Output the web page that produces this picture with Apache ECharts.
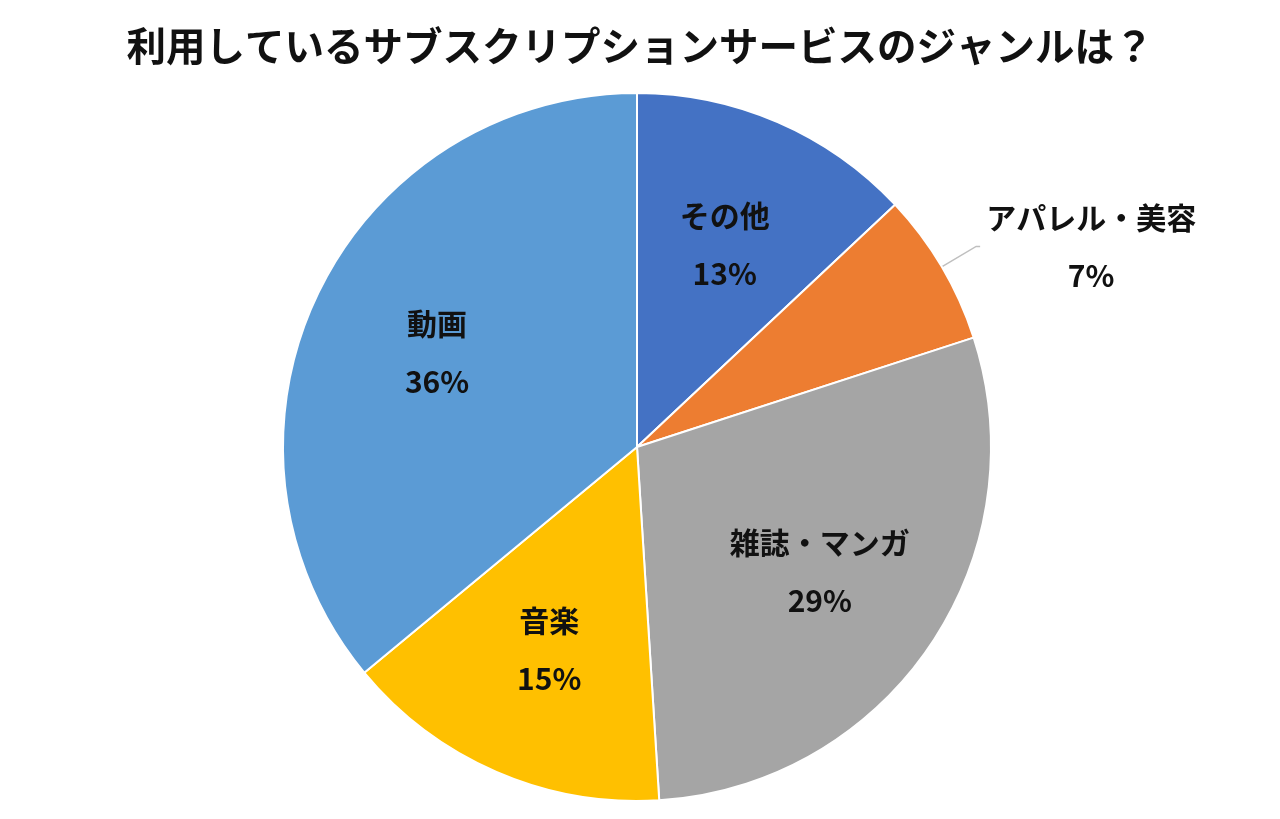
<!DOCTYPE html>
<html>
<head>
<meta charset="utf-8">
<script src="https://cdn.jsdelivr.net/npm/echarts@6/dist/echarts.min.js"></script>
<style>
html,body{margin:0;padding:0;background:#fff;}
#c{width:1280px;height:819px;}
</style>
</head>
<body>
<div id="c"></div>
<script>
const titleText = '利用しているサブスクリプションサービスのジャンルは？';
const categories = ['その他', 'アパレル・美容', '雑誌・マンガ', '音楽', '動画'];
const percents = [13, 7, 29, 15, 36];
const colors = ['#4472C4', '#ED7D31', '#A5A5A5', '#FFC000', '#5B9BD5'];
const outsideLabels = ['アパレル・美容'];

const FONT = '"Noto Sans CJK JP", "Noto Sans", sans-serif';
const chart = echarts.init(document.getElementById('c'));

const baseData = categories.map((n, i) => ({
  name: n, value: percents[i],
  itemStyle: { color: colors[i] },
  label: { show: outsideLabels.includes(n) },
  labelLine: { show: outsideLabels.includes(n) }
}));
const labelData = categories.map((n, i) => ({
  name: n, value: percents[i],
  label: { show: !outsideLabels.includes(n) }
}));

chart.setOption({
  backgroundColor: '#fff',
  animation: false,
  title: {
    text: titleText, left: 'center', top: 21,
    textStyle: { fontFamily: FONT, fontSize: 39.5, fontWeight: 'bold', color: '#111' }
  },
  series: [
    {
      type: 'pie', center: [637, 447], radius: 354,
      startAngle: 90, clockwise: true, silent: true,
      itemStyle: { borderColor: '#fff', borderWidth: 2 },
      label: {
        position: 'outside',
        formatter: '{a|{b}}\n{a|{c}%}',
        rich: { a: { fontFamily: FONT, fontSize: 30, fontWeight: 'bold', color: '#111', lineHeight: 58, width: 212, align: 'center' } }
      },
      labelLine: { length: 40, length2: 4, lineStyle: { color: '#bfbfbf', width: 1.5 } },
      data: baseData
    },
    {
      type: 'pie', center: [637, 447], radius: [180, 256],
      startAngle: 90, clockwise: true, silent: true,
      itemStyle: { color: 'rgba(0,0,0,0)', borderWidth: 0 },
      label: {
        position: 'inside',
        formatter: '{b}\n{c}%',
        fontFamily: FONT, fontSize: 30, fontWeight: 'bold', color: '#111', lineHeight: 58
      },
      labelLine: { show: false },
      data: labelData
    }
  ]
});
</script>
</body>
</html>
